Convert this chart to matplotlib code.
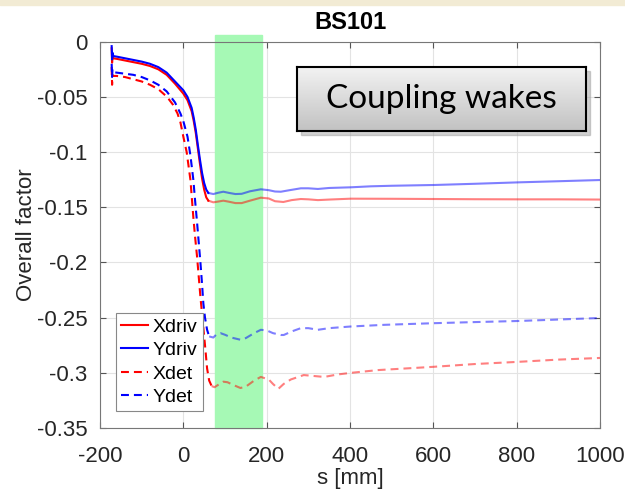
import numpy as np
import matplotlib
matplotlib.use("Agg")
import matplotlib.pyplot as plt
from matplotlib.patches import Rectangle
from matplotlib.colors import LinearSegmentedColormap

plt.rcParams['font.family'] = ['Liberation Sans', 'DejaVu Sans']
plt.rcParams['axes.unicode_minus'] = False

# Ydriv (blue solid): steep part then settled part
ydriv_s_a = [-172, -171, -170, -168, -160, -140, -120, -100, -80, -60, -40, -20, 0, 10,
             20, 25, 30, 35, 40, 45, 50, 55, 60]
ydriv_v_a = [-0.004, -0.016, -0.010, -0.013, -0.0135, -0.015, -0.0165, -0.018, -0.020, -0.023,
             -0.028, -0.036, -0.044, -0.050, -0.060, -0.069, -0.080, -0.094, -0.107, -0.119,
             -0.128, -0.134, -0.137]
ydriv_s_b = [60, 72, 84, 96, 110, 125, 140, 160, 186, 205, 220, 234, 255, 282, 300, 323,
             350, 402, 450, 500, 602, 700, 805, 900, 1000]
ydriv_v_b = [-0.137, -0.138, -0.1368, -0.1359, -0.137, -0.138, -0.1378, -0.1355, -0.1337,
             -0.1345, -0.1357, -0.1359, -0.1345, -0.1328, -0.1328, -0.1334, -0.1325, -0.1319,
             -0.131, -0.1305, -0.1298, -0.1287, -0.1274, -0.1264, -0.1253]

# Xdriv (red solid)
xdriv_s_a = [-172, -171, -170, -168, -160, -140, -120, -100, -80, -60, -40, -20, 0, 10,
             20, 25, 30, 35, 40, 45, 50, 55, 60]
xdriv_v_a = [-0.006, -0.019, -0.013, -0.015, -0.0155, -0.017, -0.0185, -0.020, -0.022, -0.025,
             -0.030, -0.038, -0.047, -0.053, -0.063, -0.072, -0.083, -0.097, -0.111, -0.124,
             -0.134, -0.141, -0.144]
xdriv_s_b = [60, 72, 84, 96, 110, 125, 140, 160, 186, 205, 220, 240, 260, 282, 300, 323,
             350, 402, 500, 602, 700, 805, 900, 1000]
xdriv_v_b = [-0.144, -0.1455, -0.1448, -0.144, -0.145, -0.1462, -0.1462, -0.144, -0.1413,
             -0.142, -0.1445, -0.1452, -0.1435, -0.1425, -0.1428, -0.1435, -0.143, -0.1422,
             -0.1423, -0.1425, -0.1427, -0.1428, -0.1428, -0.143]

# Ydet (blue dashed)
ydet_s_a = [-172, -171, -170, -168, -160, -140, -120, -100, -80, -60, -40, -30, -20, -7, 0,
            10, 17, 24, 28, 33, 37, 41, 45, 48, 52, 57, 62]
ydet_v_a = [-0.020, -0.032, -0.025, -0.0275, -0.028, -0.029, -0.030, -0.032, -0.035, -0.039,
            -0.045, -0.050, -0.055, -0.065, -0.072, -0.086, -0.103, -0.125, -0.143, -0.164,
            -0.182, -0.200, -0.220, -0.237, -0.250, -0.261, -0.267]
ydet_s_b = [62, 72, 80, 89, 100, 115, 137, 150, 170, 186, 200, 215, 234, 241, 260, 282, 300,
            323, 350, 402, 482, 602, 700, 805, 900, 1000]
ydet_v_b = [-0.267, -0.268, -0.265, -0.264, -0.2655, -0.268, -0.270, -0.2685, -0.264, -0.261,
            -0.2615, -0.264, -0.2657, -0.2657, -0.2625, -0.2595, -0.2595, -0.261, -0.2595,
            -0.258, -0.2565, -0.255, -0.254, -0.253, -0.2517, -0.2503]

# Xdet (red dashed)
xdet_s_a = [-172, -171, -170, -168, -160, -140, -120, -100, -80, -60, -39, -25, -14, -7, 0,
            8, 17, 24, 28, 33, 37, 41, 47, 53, 57, 62, 68]
xdet_v_a = [-0.023, -0.039, -0.030, -0.031, -0.031, -0.032, -0.034, -0.036, -0.039, -0.043,
            -0.050, -0.057, -0.065, -0.073, -0.086, -0.100, -0.125, -0.159, -0.176, -0.195,
            -0.213, -0.231, -0.255, -0.279, -0.296, -0.307, -0.312]
xdet_s_b = [68, 75, 85, 96, 106, 120, 137, 150, 170, 186, 205, 215, 228, 241, 258, 289, 338,
            370, 402, 467, 602, 700, 805, 900, 1000]
xdet_v_b = [-0.312, -0.313, -0.3105, -0.308, -0.3085, -0.311, -0.3137, -0.3125, -0.307,
            -0.3037, -0.306, -0.310, -0.3145, -0.310, -0.306, -0.302, -0.3037, -0.3015, -0.300,
            -0.2975, -0.2945, -0.292, -0.290, -0.288, -0.2865]

band = (77, 188)
xticks = [-200, 0, 200, 400, 600, 800, 1000]
yticks = [-0.35, -0.3, -0.25, -0.2, -0.15, -0.1, -0.05, 0]
ytick_labels = ['-0.35', '-0.3', '-0.25', '-0.2', '-0.15', '-0.1', '-0.05', '0']

fig = plt.figure(figsize=(6.25, 4.92), dpi=100)
fig.patches.append(Rectangle((0, 1 - 5 / 492), 1, 5 / 492, transform=fig.transFigure,
                             color='#f2ebd4', zorder=0))

ax = fig.add_axes([0.16, 0.13, 0.80, 0.7852])
ax.set_axisbelow(True)
ax.axvspan(band[0], band[1], ymin=0, ymax=1.017, color='#a6f9b5', zorder=1, clip_on=False)

lw = 1.5
dash = (3.8, 2.4)
h1, = ax.plot(xdriv_s_a, xdriv_v_a, color='red', lw=lw, zorder=3)
h2, = ax.plot(ydriv_s_a, ydriv_v_a, color='blue', lw=lw, zorder=3)
h3, = ax.plot(xdet_s_a, xdet_v_a, color='red', lw=lw, dashes=dash, zorder=3)
h4, = ax.plot(ydet_s_a, ydet_v_a, color='blue', lw=lw, dashes=dash, zorder=3)
ax.plot(xdriv_s_b, xdriv_v_b, color='red', lw=lw, alpha=0.5, zorder=2)
ax.plot(ydriv_s_b, ydriv_v_b, color='blue', lw=lw, alpha=0.5, zorder=2)
ax.plot(xdet_s_b, xdet_v_b, color='red', lw=lw, alpha=0.5, dashes=dash, zorder=2)
ax.plot(ydet_s_b, ydet_v_b, color='blue', lw=lw, alpha=0.5, dashes=dash, zorder=2)

ax.set_xlim(-200, 1000)
ax.set_ylim(-0.35, 0)
ax.set_xticks(xticks)
ax.set_xticklabels([str(t) for t in xticks])
ax.set_yticks(yticks)
ax.set_yticklabels(ytick_labels)
ax.grid(True, color='#e3e3e3', lw=0.8)
ax.tick_params(direction='in', top=True, right=True, length=4, width=0.8,
               colors='#555555', labelcolor='#262626', labelsize=16)
ax.tick_params(axis='x', pad=13)
ax.tick_params(axis='y', pad=9)
for sp in ax.spines.values():
    sp.set_color('#777777')
    sp.set_linewidth(0.8)

ax.set_title('BS101', fontsize=17, fontweight='bold', pad=9)
ax.set_xlabel('s [mm]', fontsize=16, color='#262626', labelpad=1)
ax.set_ylabel('Overall factor', fontsize=16, color='#262626', labelpad=0)

leg = ax.legend([h1, h2, h3, h4], ['Xdriv', 'Ydriv', 'Xdet', 'Ydet'], loc='lower left',
                bbox_to_anchor=(0.032, 0.044), borderaxespad=0, fontsize=14,
                handlelength=1.4, handletextpad=0.25, labelspacing=0.3,
                borderpad=0.25, fancybox=False, framealpha=1, edgecolor='#888888')
leg.get_frame().set_linewidth(0.8)

# "Coupling wakes" label box with shadow and gradient
bx, by, bw, bh = 297 / 625, 1 - 131 / 492, 289 / 625, 64 / 492
fig.patches.append(Rectangle((bx + 4 / 625, by - 4 / 492), bw, bh, transform=fig.transFigure,
                             color='#999999', alpha=0.45, zorder=4))
bax = fig.add_axes([bx, by, bw, bh], zorder=5)
cmap = LinearSegmentedColormap.from_list('g', ['#c2c2c2', '#f3f3f3'])
grad = np.linspace(0, 1, 64).reshape(-1, 1)
bax.imshow(grad, aspect='auto', cmap=cmap, origin='lower', extent=(0, 1, 0, 1))
bax.set_xticks([])
bax.set_yticks([])
for sp in bax.spines.values():
    sp.set_color('black')
    sp.set_linewidth(1.5)
bax.text(0.5, 0.5, 'Coupling wakes', fontsize=24, family=['Lato', 'DejaVu Sans'],
         ha='center', va='center', transform=bax.transAxes)

fig.savefig('out.png', dpi=100)
